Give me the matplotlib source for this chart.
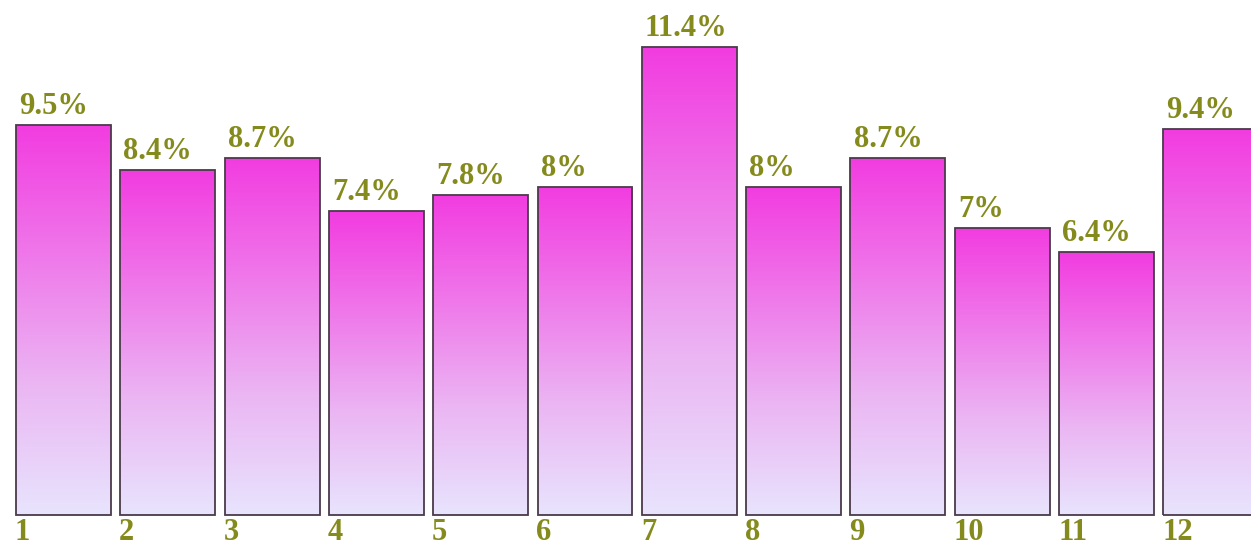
import numpy as np
import matplotlib
matplotlib.use("Agg")
import matplotlib.pyplot as plt
from matplotlib.colors import LinearSegmentedColormap

categories = ["1", "2", "3", "4", "5", "6", "7", "8", "9", "10", "11", "12"]
values = [9.5, 8.4, 8.7, 7.4, 7.8, 8.0, 11.4, 8.0, 8.7, 7.0, 6.4, 9.4]
labels = ["9.5%", "8.4%", "8.7%", "7.4%", "7.8%", "8%", "11.4%", "8%", "8.7%", "7%", "6.4%", "9.4%"]

olive = "#858a1c"
grad = LinearSegmentedColormap.from_list(
    "bar", ["#e8e4fd", "#ebb6f3", "#ef78ea", "#f23ce0"])

fig = plt.figure(figsize=(12.51, 5.47), dpi=100)
ax = fig.add_axes([0, 0, 1, 1])
ax.set_xlim(-0.153, 11.84)
ax.set_ylim(-0.78, 12.55)
ax.axis("off")

x = np.arange(len(values))
width = 0.91
bars = ax.bar(x, values, width=width, align="edge", color="none",
              edgecolor="#4a3a4a", linewidth=1.3, zorder=3)

img = np.linspace(0, 1, 256).reshape(-1, 1)
for b, v in zip(bars, values):
    x0 = b.get_x()
    im = ax.imshow(img, cmap=grad, aspect="auto", origin="lower",
                   extent=[x0, x0 + width, 0, v], zorder=2)
    im.set_clip_path(b)

font = dict(family="Liberation Serif", weight="bold", color=olive, fontsize=22)
for xi, v, lab in zip(x, values, labels):
    ax.text(xi + 0.03, v + 0.1, lab, ha="left", va="bottom", **font)
for xi, cat in zip(x, categories):
    ax.text(xi - 0.01, -0.08, cat, ha="left", va="top", **font)

fig.savefig("out.png", dpi=100)
